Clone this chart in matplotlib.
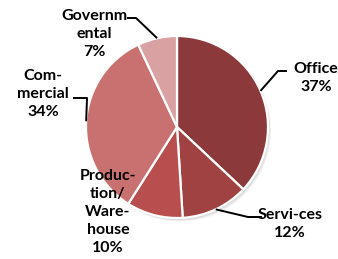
import numpy as np
import matplotlib
matplotlib.use("Agg")
import matplotlib.pyplot as plt
from matplotlib.patches import Circle

categories = ["Office", "Servi-ces", "Produc-\ntion/\nWare-\nhouse", "Com-\nmercial", "Governm\nental"]
values = [37, 12, 10, 34, 7]
colors = ["#8B393A", "#A14242", "#B84F4E", "#C87170", "#D9A1A1"]

W, H = 338, 259
fig = plt.figure(figsize=(W / 100, H / 100), dpi=100)
ax = fig.add_axes([0, 0, 1, 1])

cx, cy, R = 177, 132, 91

# subtle shadow
for i, a in enumerate([0.06, 0.05, 0.04]):
    ax.add_patch(Circle((cx + 1.5 + i * 0.8, cy - 2 - i * 0.8), R, color="black", alpha=a, lw=0, zorder=0))

wedges, _ = ax.pie(values, startangle=90, counterclock=False, center=(cx, cy), radius=R,
                   colors=colors, wedgeprops=dict(edgecolor="white", linewidth=1.6, zorder=2))
ax.set_xlim(0, W)
ax.set_ylim(0, H)
ax.set_aspect("equal")
ax.axis("off")

font = dict(family=["Lato", "DejaVu Sans"], fontweight="bold",
            fontsize=11.5, color="black", ha="center", va="center", linespacing=1.38)

# label centres (image px) and leader elbow/end (image px) ; None = no leader
label_pos = [(316, 78), (290, 224), (108, 212), (43, 94), (94, 34)]
leaders = [[(278, 71), (287, 71)], [(248, 217), (262, 217)], None, [(87, 98), (73, 98)], [(136, 18), (127, 18)]]

for w, cat, v, pos, ld in zip(wedges, categories, values, label_pos, leaders):
    ax.text(pos[0], H - pos[1], f"{cat}\n{v}%", **font)
    if ld is not None:
        ang = np.deg2rad((w.theta1 + w.theta2) / 2)
        sx, sy = cx + R * np.cos(ang), cy + R * np.sin(ang)
        xs = [sx] + [p[0] for p in ld]
        ys = [sy] + [H - p[1] for p in ld]
        ax.plot(xs, ys, color="black", lw=1.4, zorder=3, solid_capstyle="butt")

fig.savefig("out.png", dpi=100, facecolor="white")
